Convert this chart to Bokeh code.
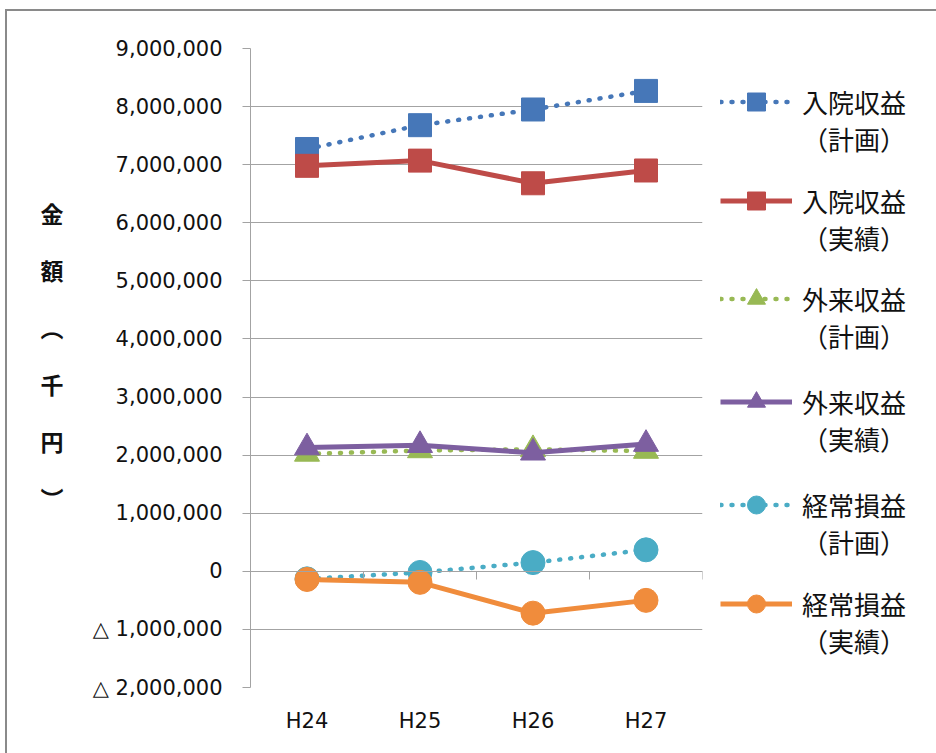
from bokeh.plotting import figure
from bokeh.layouts import row
from bokeh.models import (FactorRange, Range1d, FixedTicker, Legend, LegendItem, LinearAxis,
                          ColumnDataSource)
from bokeh.embed import file_html
from bokeh.resources import INLINE

# ---- data ----
years = ["H24", "H25", "H26", "H27"]
inpatient_plan = [7270000, 7680000, 7950000, 8270000]
inpatient_actual = [6980000, 7070000, 6680000, 6900000]
outpatient_plan = [2020000, 2080000, 2100000, 2070000]
outpatient_actual = [2130000, 2170000, 2040000, 2190000]
ordinary_plan = [-130000, -20000, 150000, 370000]
ordinary_actual = [-140000, -190000, -720000, -500000]

series_names = ["入院収益", "入院収益", "外来収益", "外来収益", "経常損益", "経常損益"]
series_kinds = ["（計画）", "（実績）", "（計画）", "（実績）", "（計画）", "（実績）"]
y_ticks = [-2000000, -1000000, 0, 1000000, 2000000, 3000000, 4000000,
           5000000, 6000000, 7000000, 8000000, 9000000]
y_tick_labels = ["△ 2,000,000", "△ 1,000,000", "0", "1,000,000", "2,000,000",
                 "3,000,000", "4,000,000", "5,000,000", "6,000,000",
                 "7,000,000", "8,000,000", "9,000,000"]
y_title_chars = ["金", "額", "︵", "千", "円", "︶"]

CJK = "Noto Sans CJK JP"
LATIN = "DejaVu Sans"
GRID = "#a3a3a3"
TEXT = "#111111"

p = figure(
    x_range=FactorRange(*years, range_padding=0),
    y_range=Range1d(-2000000, 9000000),
    width=700, height=742,
    min_border_left=243, min_border_top=37, min_border_bottom=66, min_border_right=5,
    output_backend="svg", toolbar_location=None,
)
p.outline_line_color = None
p.background_fill_color = "white"
p.border_fill_color = "white"

# grid & axes
p.xgrid.visible = False
p.ygrid.ticker = FixedTicker(ticks=y_ticks)
p.ygrid.grid_line_color = GRID
p.ygrid.grid_line_width = 1

yax = p.yaxis[0]
yax.ticker = FixedTicker(ticks=y_ticks)
yax.major_label_overrides = {t: l for t, l in zip(y_ticks, y_tick_labels)}
yax.axis_line_color = GRID
yax.major_tick_line_color = GRID
yax.major_tick_out = 8
yax.major_tick_in = 0
yax.minor_tick_line_color = None
yax.major_label_text_font = LATIN
yax.major_label_text_font_size = "21px"
yax.major_label_text_color = TEXT
yax.major_label_standoff = 20

# vertical title as an outer axis whose labels are the characters
title_step = 981000
title_ticks = [6163000 - i * title_step for i in range(len(y_title_chars))]
title_axis = LinearAxis(ticker=FixedTicker(ticks=title_ticks),
                        major_label_overrides={t: c for t, c in zip(title_ticks, y_title_chars)},
                        axis_line_color=None, major_tick_line_color=None, minor_tick_line_color=None,
                        major_tick_out=0, major_tick_in=0,
                        major_label_text_font=CJK, major_label_text_font_size="23px",
                        major_label_text_font_style="bold", major_label_text_color=TEXT,
                        major_label_standoff=26)
p.add_layout(title_axis, "left")

xax = p.xaxis[0]
xax.axis_line_color = None
xax.major_tick_line_color = None
xax.major_tick_out = 0
xax.major_tick_in = 0
xax.major_label_text_font = LATIN
xax.major_label_text_font_size = "21px"
xax.major_label_text_color = TEXT
xax.major_label_standoff = 21

zero_ticks = [0, 1, 2, 3, 4]
zero_axis = LinearAxis(ticker=FixedTicker(ticks=zero_ticks), fixed_location=0,
                       axis_line_color=GRID, major_tick_line_color=GRID,
                       major_tick_in=8, major_tick_out=0, minor_tick_line_color=None,
                       major_label_overrides={t: "" for t in zero_ticks},
                       major_label_standoff=0)
p.add_layout(zero_axis, "above")

# legend-only figure: same series as hidden renderers, one legend per entry
lf = figure(width=229, height=742, x_range=FactorRange(*years, range_padding=0),
            y_range=Range1d(-2000000, 9000000),
            min_border_left=0, min_border_right=0, min_border_top=37, min_border_bottom=66,
            output_backend="svg", toolbar_location=None)
lf.axis.visible = False
lf.grid.visible = False
lf.outline_line_color = None
lf.background_fill_color = "white"
lf.border_fill_color = "white"

specs = [
    (inpatient_plan, "#4677b8", "square", 23, "dotted"),
    (inpatient_actual, "#be4b48", "square", 23, "solid"),
    (outpatient_plan, "#98b954", "triangle", 25, "dotted"),
    (outpatient_actual, "#7d5fa0", "triangle", 25, "solid"),
    (ordinary_plan, "#4aacc5", "circle", 24, "dotted"),
    (ordinary_actual, "#f08c3c", "circle", 24, "solid"),
]
legend_centers_px = [103, 202, 300, 403, 506, 605]  # page y of each legend entry
frame_bottom_px = 687
item_half_height = 54
for (vals, color, marker, size, style), name, kind, yc in zip(
        specs, series_names, series_kinds, legend_centers_px):
    if style == "dotted":
        line_kw = dict(line_color=color, line_width=4.5, line_dash="1 10", line_cap="round")
    else:
        line_kw = dict(line_color=color, line_width=5)
    src = ColumnDataSource(data=dict(x=years, y=vals))
    p.line("x", "y", source=src, **line_kw)
    p.scatter("x", "y", source=src, marker=marker, size=size, fill_color=color, line_color=color)

    llr = lf.line("x", "y", source=src, visible=False, **line_kw)
    lsr = lf.scatter("x", "y", source=src, visible=False, marker=marker, size=size,
                     fill_color=color, line_color=color)
    lg = Legend(items=[LegendItem(label="\n" + name + "\n" + kind, renderers=[llr, lsr])],
                location=(13, frame_bottom_px - yc - item_half_height))
    lg.label_text_font = CJK
    lg.label_text_font_size = "26px"
    lg.label_text_line_height = 1.0
    lg.label_text_color = TEXT
    lg.label_text_align = "left"
    lg.glyph_width = 72
    lg.glyph_height = 45
    lg.label_standoff = 10
    lg.padding = 0
    lg.margin = 0
    lg.border_line_color = None
    lg.background_fill_alpha = 0
    lf.add_layout(lg, "center")

layout = row(p, lf)
layout.styles = {"margin-left": "5px", "margin-top": "9px",
                 "border-left": "2px solid #8a8a8a", "border-top": "2px solid #8a8a8a"}

open("out.html", "w").write(file_html(layout, INLINE))
